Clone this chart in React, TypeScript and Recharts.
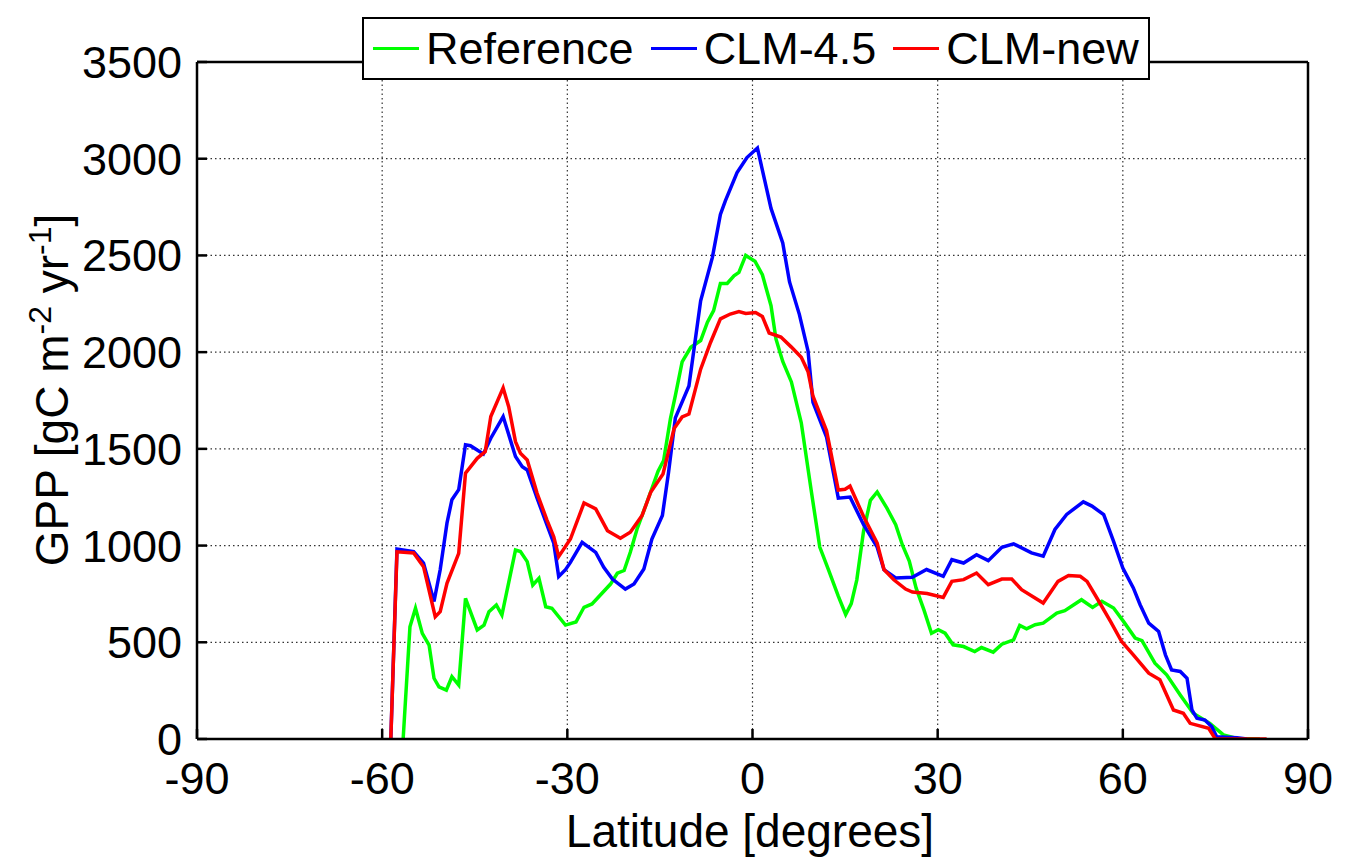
import React from 'react';
import { LineChart, Line, XAxis, YAxis, CartesianGrid, Legend } from 'recharts';

const latTicks = [-90, -60, -30, 0, 30, 60, 90];
const gppTicks = [0, 500, 1000, 1500, 2000, 2500, 3000, 3500];

const referenceLat = [-56.6, -55.5, -54.6, -53.5, -52.4, -51.6, -50.8, -49.6, -48.7, -47.6, -46.5, -44.6, -43.5, -42.7, -41.5, -40.6, -38.4, -37.6, -36.5, -35.6, -34.6, -33.5, -32.5, -30.3, -28.6, -27.3, -26.0, -23.0, -21.9, -20.8, -19.8, -18.7, -17.1, -15.3, -14.4, -13.3, -12.5, -11.4, -10.0, -8.4, -7.3, -6.3, -5.2, -4.1, -3.0, -2.2, -1.1, 0.4, 1.6, 3.0, 3.8, 4.9, 6.3, 7.9, 9.5, 10.9, 12.3, 13.9, 15.1, 16.0, 16.9, 18.0, 19.1, 20.2, 21.8, 23.2, 24.3, 25.4, 26.5, 27.8, 29.0, 30.1, 31.2, 32.5, 34.2, 36.0, 37.1, 39.0, 40.4, 42.3, 43.3, 44.4, 45.8, 47.1, 49.3, 50.6, 53.3, 55.1, 56.6, 58.5, 60.1, 62.0, 63.1, 65.2, 67.1, 69.3, 71.4, 74.1, 76.3, 78.5, 82.2];
const referenceGpp = [0, 580, 676, 546, 486, 314, 270, 253, 322, 279, 727, 564, 589, 658, 693, 641, 977, 969, 917, 796, 831, 684, 676, 589, 605, 681, 698, 801, 857, 871, 965, 1086, 1224, 1385, 1440, 1655, 1775, 1950, 2025, 2060, 2155, 2215, 2355, 2355, 2395, 2412, 2500, 2470, 2400, 2240, 2068, 1952, 1846, 1635, 1287, 992, 876, 739, 644, 700, 823, 1076, 1234, 1277, 1192, 1108, 1002, 920, 781, 665, 547, 565, 547, 487, 478, 452, 473, 449, 490, 513, 587, 570, 591, 599, 651, 663, 720, 680, 712, 677, 608, 522, 508, 392, 332, 228, 133, 81, 21, 3, 0];

const clm45Lat = [-58.6, -57.6, -54.9, -53.3, -51.6, -50.6, -49.5, -48.7, -47.6, -46.5, -45.7, -43.6, -42.4, -40.4, -38.4, -37.3, -36.5, -34.9, -33.3, -32.2, -31.4, -30.3, -29.5, -27.6, -25.4, -24.1, -22.7, -20.6, -19.2, -17.6, -16.3, -14.6, -13.6, -12.5, -10.3, -8.4, -6.5, -5.2, -4.4, -2.5, -0.9, 0.8, 3.0, 4.9, 6.0, 7.6, 9.0, 9.8, 12.0, 13.9, 15.8, 18.0, 20.2, 21.3, 23.2, 25.9, 28.2, 30.9, 32.3, 34.2, 36.3, 38.2, 40.4, 42.3, 45.2, 47.1, 49.0, 50.9, 53.6, 55.0, 56.9, 58.5, 60.0, 61.7, 62.8, 64.2, 65.8, 66.9, 67.9, 69.3, 70.4, 71.2, 72.0, 73.3, 74.4, 75.2, 78.5, 80.1];
const clm45Gpp = [0, 982, 969, 909, 711, 875, 1116, 1237, 1289, 1521, 1516, 1474, 1555, 1667, 1460, 1408, 1391, 1245, 1107, 1012, 840, 875, 913, 1017, 965, 888, 827, 775, 801, 879, 1034, 1155, 1379, 1660, 1825, 2265, 2490, 2712, 2782, 2928, 3006, 3055, 2743, 2564, 2363, 2194, 2005, 1741, 1561, 1245, 1251, 1108, 992, 876, 833, 836, 876, 841, 927, 910, 953, 922, 991, 1009, 962, 945, 1083, 1161, 1226, 1204, 1160, 1022, 884, 781, 694, 599, 556, 435, 357, 349, 314, 150, 107, 98, 64, 12, 7, 0];

const clmNewLat = [-58.6, -57.6, -54.9, -53.3, -51.4, -50.6, -49.5, -47.6, -46.5, -44.6, -43.3, -42.4, -40.4, -39.5, -38.4, -37.6, -36.5, -34.9, -33.3, -32.2, -31.4, -29.5, -27.3, -25.4, -23.5, -21.4, -19.8, -17.9, -16.5, -14.5, -12.7, -11.4, -10.3, -8.4, -6.8, -5.2, -3.6, -2.2, -1.1, 0.5, 1.6, 2.7, 4.6, 6.3, 7.9, 9.0, 9.8, 12.0, 13.9, 15.0, 15.8, 18.0, 20.2, 21.3, 22.9, 24.8, 25.9, 28.3, 30.9, 32.3, 34.2, 36.3, 38.2, 40.4, 42.0, 43.6, 47.1, 49.5, 51.2, 53.1, 54.2, 55.8, 58.0, 59.8, 61.7, 64.2, 66.0, 68.2, 69.8, 70.9, 73.9, 75.0, 83.3];
const clmNewGpp = [0, 968, 962, 891, 632, 658, 805, 960, 1374, 1451, 1486, 1667, 1815, 1718, 1537, 1477, 1443, 1270, 1132, 1046, 943, 1034, 1220, 1190, 1077, 1038, 1069, 1155, 1275, 1370, 1605, 1665, 1680, 1912, 2050, 2172, 2197, 2210, 2200, 2205, 2184, 2099, 2078, 2026, 1973, 1899, 1772, 1593, 1287, 1291, 1308, 1150, 1013, 876, 823, 775, 760, 752, 732, 815, 824, 858, 798, 827, 827, 772, 703, 815, 845, 841, 815, 729, 608, 504, 435, 340, 306, 150, 133, 81, 55, 0, 0];

const seriesNames = ['Reference', 'CLM-4.5', 'CLM-new'];
const seriesColors = ['#00ff00', '#0000ff', '#ff0000'];

const toPoints = (lat: number[], gpp: number[]) => lat.map((x, i) => ({ lat: x, gpp: gpp[i] }));
const referenceData = toPoints(referenceLat, referenceGpp);
const clm45Data = toPoints(clm45Lat, clm45Gpp);
const clmNewData = toPoints(clmNewLat, clmNewGpp);

const FONT = '"Liberation Sans", Arial, Helvetica, sans-serif';

const LegendBox = () => (
  <div
    style={{
      boxSizing: 'border-box',
      width: 788,
      height: 63,
      border: '2px solid #000',
      background: '#fff',
      display: 'flex',
      alignItems: 'center',
      paddingLeft: 9,
      fontFamily: FONT,
      fontSize: 45,
      color: '#000',
      whiteSpace: 'nowrap',
    }}
  >
    {seriesNames.map((name, i) => (
      <div key={name} style={{ display: 'flex', alignItems: 'center', marginRight: i < 2 ? 17 : 0 }}>
        <div style={{ width: 46, height: 3, background: seriesColors[i], marginRight: 7 }} />
        <span style={{ lineHeight: '50px' }}>{name}</span>
      </div>
    ))}
  </div>
);

const YLabel = () => (
  <text
    transform="translate(68,390) rotate(-90)"
    textAnchor="middle"
    fontFamily={FONT}
    fontSize={46}
    fill="#000"
  >
    GPP [gC m
    <tspan dy={-17} fontSize={32}>-2</tspan>
    <tspan dy={17}> yr</tspan>
    <tspan dy={-17} fontSize={32}>-1</tspan>
    <tspan dy={17}>]</tspan>
  </text>
);

const XLabel = () => (
  <text x={750} y={847} textAnchor="middle" fontFamily={FONT} fontSize={46} fill="#000">
    Latitude [degrees]
  </text>
);

export default function App() {
  const tickStyle = { fontFamily: FONT, fontSize: 45, fill: '#000' };
  return (
    <div style={{ position: 'absolute', left: 0, top: 0, width: 1345, height: 858, background: '#fff' }}>
      <LineChart width={1345} height={858} margin={{ top: 61, right: 36, bottom: 0, left: 0 }}>
        <CartesianGrid
          stroke="#333"
          strokeDasharray="1.5 3"
          strokeWidth={1.2}
          horizontalValues={gppTicks}
          verticalValues={latTicks}
        />
        <XAxis
          dataKey="lat"
          type="number"
          domain={[-90, 90]}
          ticks={latTicks}
          allowDataOverflow
          height={119}
          tickSize={-10}
          tickMargin={33}
          tick={tickStyle}
          axisLine={{ stroke: '#000', strokeWidth: 2.5 }}
          tickLine={{ stroke: '#000', strokeWidth: 2.5 }}
          label={{ content: () => <XLabel /> }}
        />
        <XAxis
          xAxisId="top"
          orientation="top"
          type="number"
          domain={[-90, 90]}
          ticks={latTicks}
          allowDataOverflow
          height={1}
          tickSize={-10}
          tick={false}
          axisLine={{ stroke: '#000', strokeWidth: 2.5 }}
          tickLine={{ stroke: '#000', strokeWidth: 2.5 }}
        />
        <YAxis
          type="number"
          domain={[0, 3500]}
          ticks={gppTicks}
          allowDataOverflow
          width={197}
          tickSize={-10}
          tickMargin={25}
          tick={tickStyle}
          axisLine={{ stroke: '#000', strokeWidth: 2.5 }}
          tickLine={{ stroke: '#000', strokeWidth: 2.5 }}
          label={{ content: () => <YLabel /> }}
        />
        <YAxis
          yAxisId="right"
          orientation="right"
          type="number"
          domain={[0, 3500]}
          ticks={gppTicks}
          allowDataOverflow
          width={1}
          tickSize={-10}
          tick={false}
          axisLine={{ stroke: '#000', strokeWidth: 2.5 }}
          tickLine={{ stroke: '#000', strokeWidth: 2.5 }}
        />
        <Legend
          layout="vertical"
          verticalAlign="middle"
          align="center"
          content={() => <LegendBox />}
          wrapperStyle={{ top: 17, left: 362, width: 788, height: 63 }}
        />
        <Line
          data={referenceData}
          dataKey="gpp"
          name="Reference"
          stroke={seriesColors[0]}
          strokeWidth={3.5}
          dot={false}
          activeDot={false}
          type="linear"
          isAnimationActive={false}
        />
        <Line
          data={clm45Data}
          dataKey="gpp"
          name="CLM-4.5"
          stroke={seriesColors[1]}
          strokeWidth={3.5}
          dot={false}
          activeDot={false}
          type="linear"
          isAnimationActive={false}
        />
        <Line
          data={clmNewData}
          dataKey="gpp"
          name="CLM-new"
          stroke={seriesColors[2]}
          strokeWidth={3.5}
          dot={false}
          activeDot={false}
          type="linear"
          isAnimationActive={false}
        />
      </LineChart>
    </div>
  );
}
